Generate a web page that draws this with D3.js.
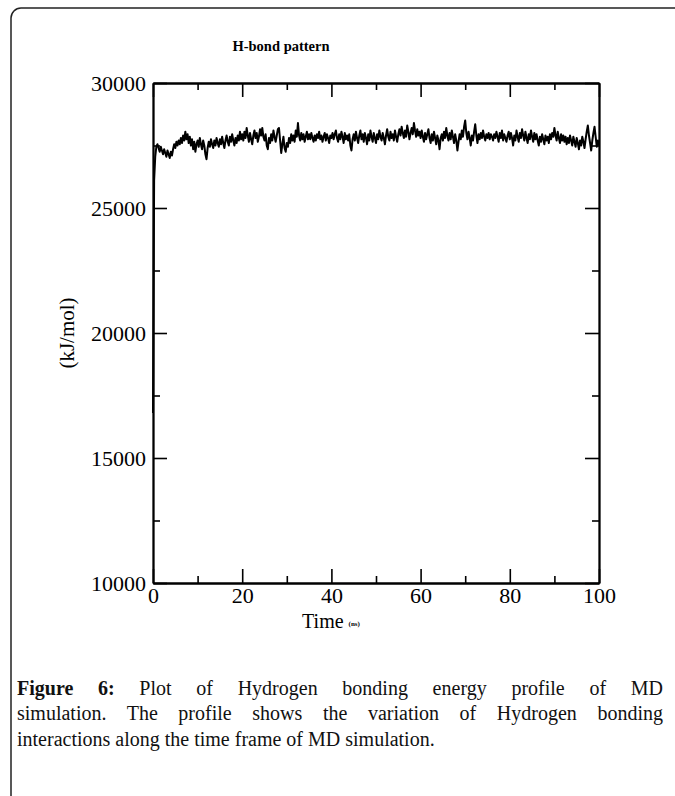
<!DOCTYPE html>
<html>
<head>
<meta charset="utf-8">
<script src="https://cdn.jsdelivr.net/npm/d3@7"></script>
<style>
  html, body { margin: 0; padding: 0; background: #fff; }
  body { width: 675px; height: 796px; overflow: hidden; position: relative; }
  svg { position: absolute; left: 0; top: 0; }
  .cap { position: absolute; left: 17px; width: 646px; font-family: "Liberation Serif", "Times New Roman", serif;
         font-size: 20px; color: #111; white-space: nowrap; line-height: 24px; }
  .cap.j { text-align: justify; text-align-last: justify; white-space: normal; }
  .cap b { font-weight: bold; }
</style>
</head>
<body>
<svg id="chart" width="675" height="796"></svg>
<div class="cap j" style="top:676px"><b>Figure 6:</b> Plot of Hydrogen bonding energy profile of MD</div>
<div class="cap j" style="top:701px">simulation. The profile shows the variation of Hydrogen bonding</div>
<div class="cap" style="top:727px">interactions along the time frame of MD simulation.</div>
<script>
// ---- data ----
const chartTitle = "H-bond pattern";
const yLabel = "(kJ/mol)";
const xLabel = "Time";
const xUnit = "(ns)";
const xMajorTicks = [0, 20, 40, 60, 80, 100];
const xMinorTicks = [10, 30, 50, 70, 90];
const yMajorTicks = [10000, 15000, 20000, 25000, 30000];
const yMinorTicks = [12500, 17500, 22500, 27500];
const timeStep = 0.25; // ns between samples
const hbondEnergy = [
16800,26100,27050,27450,27550,27400,27250,27450,27300,27150,27350,27200,27050,27300,27150,27000,27250,27100,27350,27550,
27400,27650,27500,27700,27550,27800,27600,27900,27700,28050,27750,27950,27600,27850,27500,27750,27350,27650,27250,27550,
27700,27450,27800,27550,27350,27700,27500,27150,26950,27400,27650,27450,27750,27550,27400,27700,27500,27800,27600,27450,
27750,27550,27850,27600,27400,27700,27900,27650,27500,27850,27650,27950,27700,27500,27800,27600,27900,27700,28050,27750,
27950,27700,28050,27800,28200,27900,27650,28000,27750,27550,27900,28100,27800,28000,27650,27850,28150,27900,28200,27850,
27700,27950,27500,27350,27800,27600,27950,27700,28100,27850,27650,27900,28150,28200,27700,27200,27550,27850,27400,27250,
27600,27450,27800,27600,27950,27700,27900,27650,28100,27850,28400,27900,27700,28000,27750,27950,27650,27850,28050,27750,
27950,27750,28000,27800,27650,27900,27700,27950,27800,28050,27750,27900,27650,27850,28000,27700,27950,27800,27600,27900,
27800,28000,27750,27950,28100,27800,27650,27950,27750,28050,27850,27600,28000,27750,27900,27700,27950,27500,27300,27750,
27950,27700,28050,27800,27600,27900,28100,27750,27950,27650,28000,27800,27550,27950,27700,28100,27850,27650,28000,27800,
27600,27950,27750,28100,27850,27700,28000,27800,27550,27900,28150,27850,27700,28050,27800,27950,27700,28100,27850,27650,
27950,28150,27900,28250,28000,27800,28100,27850,28300,28050,27750,28000,28200,27950,28400,28100,27850,28150,27900,28050,
27800,28100,27850,27650,28000,27750,27950,28150,27800,27600,27950,27700,28050,27800,27550,27900,27700,27350,27800,27950,
27700,28050,27800,28200,27900,27700,28000,27750,28100,27850,27600,27950,27700,27300,27650,27950,27750,28100,27850,28250,
28500,28000,27750,28050,27800,27500,27900,27700,28050,28350,27900,27600,27950,27750,28000,27800,28100,27850,27700,27950,
27800,28000,27750,27950,27850,27700,27950,27800,28050,27850,27650,28000,27800,28100,27700,27950,27800,27650,27900,28050,
27750,28000,27800,27500,27900,27700,28100,27850,27650,28000,27800,28150,27900,27700,28050,27800,27600,27950,27750,28100,
27850,27650,28000,27750,27950,27700,27500,27850,27650,27950,27750,27550,27900,27700,27850,27600,27950,27750,28000,27850,
28200,27900,27700,28050,27800,27600,27950,27700,27900,27650,27850,27550,27800,27600,27900,27700,27500,27850,27650,27450,
27800,27600,27350,27700,27500,27850,27650,27400,27750,28050,28300,27900,27600,27300,27700,28000,28250,27850,27450,27700,
27500
];

// ---- layout ----
const plot = { left: 153, right: 599, top: 83, bottom: 583 };
const svg = d3.select("#chart");

// frame
svg.append("rect").attr("x", 11).attr("y", 8).attr("width", 720).attr("height", 900)
  .attr("rx", 10).attr("fill", "none").attr("stroke", "#222").attr("stroke-width", 1.5);

const x = d3.scaleLinear().domain([0, 100]).range([plot.left, plot.right]);
const y = d3.scaleLinear().domain([10000, 30000]).range([plot.bottom, plot.top]);

const font = '"Liberation Serif", "Times New Roman", serif';

// title
svg.append("text").attr("x", 281).attr("y", 51).attr("text-anchor", "middle")
  .attr("font-family", font).attr("font-weight", "bold").attr("font-size", 14.5).text(chartTitle);

// data line
const pts = hbondEnergy.map((v, i) => [i * timeStep, v]);
svg.append("path").datum(pts)
  .attr("fill", "none").attr("stroke", "#000").attr("stroke-width", 2).attr("stroke-linejoin", "round")
  .attr("d", d3.line().x(d => x(d[0])).y(d => y(d[1])));

function styleAxis(g) {
  g.selectAll("path.domain").attr("stroke", "#000").attr("stroke-width", 1.8);
  g.selectAll(".tick line").attr("stroke", "#000").attr("stroke-width", 1.6);
  g.selectAll("text").attr("font-family", font).attr("font-size", 22).attr("fill", "#000");
}

// bottom
svg.append("g").attr("transform", `translate(0,${plot.bottom})`)
  .call(d3.axisBottom(x).tickValues(xMajorTicks).tickSize(-14).tickPadding(4).tickSizeOuter(0)).call(styleAxis);
svg.append("g").attr("transform", `translate(0,${plot.bottom})`)
  .call(d3.axisBottom(x).tickValues(xMinorTicks).tickSize(-7).tickFormat("").tickSizeOuter(0)).call(styleAxis);
// top
svg.append("g").attr("transform", `translate(0,${plot.top})`)
  .call(d3.axisTop(x).tickValues(xMajorTicks).tickSize(-14).tickFormat("").tickSizeOuter(0)).call(styleAxis);
svg.append("g").attr("transform", `translate(0,${plot.top})`)
  .call(d3.axisTop(x).tickValues(xMinorTicks).tickSize(-7).tickFormat("").tickSizeOuter(0)).call(styleAxis);
// left
svg.append("g").attr("transform", `translate(${plot.left},0)`)
  .call(d3.axisLeft(y).tickValues(yMajorTicks).tickSize(-14).tickPadding(7).tickFormat(d3.format("d")).tickSizeOuter(0)).call(styleAxis);
svg.append("g").attr("transform", `translate(${plot.left},0)`)
  .call(d3.axisLeft(y).tickValues(yMinorTicks).tickSize(-7).tickFormat("").tickSizeOuter(0)).call(styleAxis);
// right
svg.append("g").attr("transform", `translate(${plot.right},0)`)
  .call(d3.axisRight(y).tickValues(yMajorTicks).tickSize(-14).tickFormat("").tickSizeOuter(0)).call(styleAxis);
svg.append("g").attr("transform", `translate(${plot.right},0)`)
  .call(d3.axisRight(y).tickValues(yMinorTicks).tickSize(-7).tickFormat("").tickSizeOuter(0)).call(styleAxis);

// axis labels
const xl = svg.append("text").attr("x", 331).attr("y", 628).attr("text-anchor", "middle")
  .attr("font-family", font).attr("font-size", 20).attr("fill", "#000");
xl.append("tspan").text(xLabel);
xl.append("tspan").attr("font-size", 7).attr("font-weight", "bold").attr("dx", 5).attr("dy", -2).text(xUnit);

svg.append("text").attr("transform", `translate(74,333) rotate(-90)`).attr("text-anchor", "middle")
  .attr("font-family", font).attr("font-size", 21).attr("fill", "#000").text(yLabel);
</script>
</body>
</html>
